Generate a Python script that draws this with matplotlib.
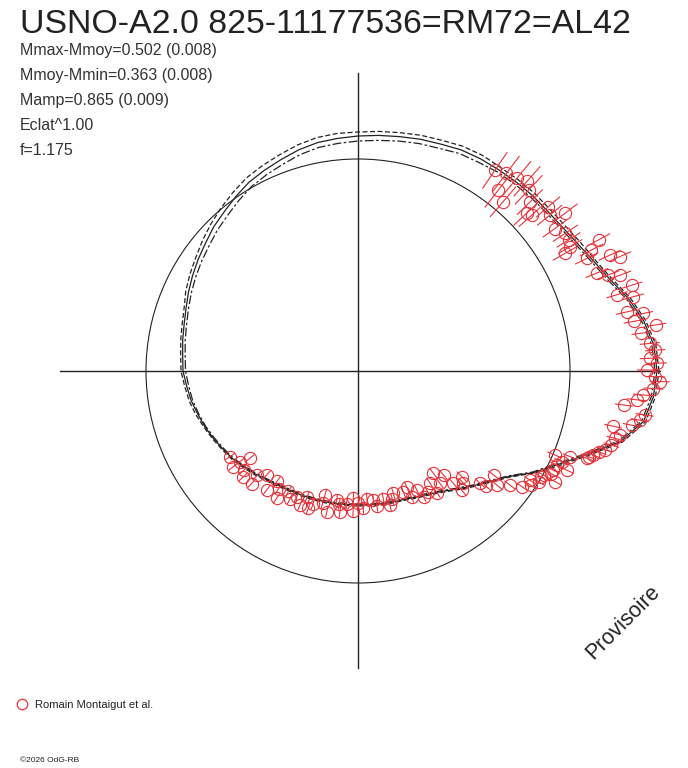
import numpy as np
import matplotlib
matplotlib.use('Agg')
import matplotlib.pyplot as plt
from matplotlib.patches import Circle
from matplotlib.collections import LineCollection

plt.rcParams['font.family'] = ['Liberation Sans', 'DejaVu Sans']

# ---- data ----
title = 'USNO-A2.0 825-11177536=RM72=AL42'
stats = ['Mmax-Mmoy=0.502 (0.008)', 'Mmoy-Mmin=0.363 (0.008)', 'Mamp=0.865 (0.009)',
         'Eclat^1.00', 'f=1.175']
observer = 'Romain Montaigut et al.'

ref_radius = 212

# model curves, radius every 5 degrees (0..355)
curve_angle = np.arange(0, 360, 5)
curve_main = [299, 297, 290, 280, 268, 260, 254, 250, 248, 247.5, 246.5, 245.5, 245, 244, 241.5, 240, 238, 236.5,
              235, 233.5, 232, 229, 225, 221.5, 218, 213, 208, 204, 199, 195, 191, 187, 183, 180, 178, 176,
              175, 172, 169.5, 166, 163, 159.5, 156, 153, 149, 145.5, 142, 139.5, 137.5, 136.5, 135.5, 135, 134.5, 134,
              134, 134.3, 134.8, 135.5, 136.5, 139, 142, 147, 154, 162.5, 172, 184, 203, 221, 244, 272, 290, 296.5]
curve_outer = [301, 299, 292, 282, 270, 262, 257, 253, 251, 250.5, 249.5, 248.5, 249, 248, 245.5, 244, 242, 240.5,
               239, 238.5, 237, 234, 230, 226.5, 223, 218, 213, 208, 203, 198, 194, 190, 185, 182, 180, 178,
               177, 174, 171.5, 168, 164, 160.5, 157, 154, 150, 146.5, 143, 140.5, 138.5, 137.5, 136.5, 136, 135.5, 135,
               135, 135.3, 135.8, 136.5, 137.5, 140, 143, 148, 155, 163.5, 173, 185, 204, 223, 246, 274, 292, 298.5]
curve_inner = [297, 295, 288, 278, 266, 258, 252, 248, 246, 245, 244, 243, 241, 240, 237, 235.5, 233.5, 231.5,
               230, 228.5, 227, 224, 220, 216.5, 213, 208, 203, 199, 194.5, 191, 187.5, 184, 180.5, 177.5, 175.5, 173.5,
               172.5, 170, 168, 165, 162, 158.5, 155, 152, 148, 144.5, 141, 138.5, 136.5, 135.5, 134.5, 134, 133.5, 133,
               133, 133.3, 133.8, 134.5, 135.5, 138, 141, 146, 153, 161.5, 171, 183, 202, 219, 242, 270, 288, 294.5]

# observations: angle (deg), radius, radial error
obs_angle = [55.7, 53.1, 50.5, 52.2, 49.4, 48.3, 46.7, 44.5, 43.1, 41.9, 40.8, 39.1, 37.3, 35.9, 33.6, 31.9,
             30.4, 29.6, 28.6, 27.4, 26.2, 24.7, 23.6, 22.3, 21.0, 20.1, 17.4, 16.4, 15.1, 12.4, 11.4, 10.2,
             8.8, 7.6, 5.4, 4.0, 2.5, 1.5, 0.2, 358.9, 358.0, 356.6, 355.2, 354.1, 352.7, 351.3, 350.1, 348.8,
             347.8, 346.3, 345.3, 343.7, 342.3, 341.4, 340.3, 339.1, 338.0, 336.9, 336.0, 333.1, 330.7, 330.7,
             334.7, 334.6, 339.6, 329.9, 327.6, 324.8, 323.1, 320.6, 322.5, 317.4, 313.2, 314.5, 310.3, 309.4,
             306.1, 306.4, 302.7, 297.5, 296.3, 292.8, 290.6, 286.1, 283.4, 281.2, 276.8, 272.2, 267.9, 265.1,
             262.7, 260.6, 257.5, 255.1, 251.3, 250.1, 246.6, 244.0, 240.0, 237.4, 232.5, 233.7, 228.7, 226.6,
             222.7, 217.5, 217.5, 218.9, 213.8, 300, 285, 278, 270, 262, 255, 248, 242, 236, 226, 221, 311, 318,
             303, 293, 268, 274, 326.5, 328.5, 332.0]
obs_radius = [243, 247, 250, 229, 223, 254, 249, 241, 231, 234, 251, 247, 260, 243, 249, 248,
              246, 238, 274, 263, 255, 277, 286, 258, 268, 279, 287, 270, 285, 275, 291, 280,
              302, 286, 293, 298, 292, 299, 289, 297, 302, 296, 286, 280, 268, 290, 286, 279,
              261, 270, 266, 264, 259, 254, 250, 245, 229, 214, 223, 219, 213, 226,
              220, 231, 246, 211, 204, 201, 190, 180, 171, 166, 154, 148, 147, 135,
              139, 127, 133, 142, 133, 126, 129, 127, 138, 130, 130, 137, 127, 133,
              142, 131, 144, 128, 140, 146, 146, 140, 139, 151, 150, 137, 138, 155,
              156, 157, 149, 139, 154, 140, 133, 136, 132, 134, 137, 136, 145, 142, 145, 151, 158, 172,
              145, 137, 140, 128, 207, 212, 219]
obs_error = [22, 22, 22, 22, 20, 20, 20, 18, 18, 18, 16, 16, 16, 15, 15, 14,
             14, 14, 13, 13, 13, 12, 12, 12, 12, 12, 11, 11, 11, 11, 10, 10,
             10, 10, 10, 10, 10, 10, 10, 10, 10, 10, 10, 10, 9, 9, 9, 9,
             9, 9, 9, 8, 8, 8, 8, 8, 8, 8, 8, 8, 7, 7,
             8, 8, 8, 7, 7, 7, 7, 7, 7, 7, 7, 7, 7, 7,
             6, 6, 6, 6, 6, 6, 6, 6, 6, 6, 6, 6, 6, 6,
             6, 6, 6, 6, 6, 6, 6, 6, 6, 6, 6, 6, 6, 6,
             6, 6, 6, 6, 6, 6, 6, 6, 6, 6, 6, 6, 6, 6, 6, 6, 7, 7,
             6, 6, 6, 6, 7, 7, 7]

ink = '#222222'
red = '#e8323a'

W, H = 688, 768
cx, cy = 358, 371

fig = plt.figure(figsize=(W / 100, H / 100), dpi=100)
ax = fig.add_axes([0, 0, 1, 1])
ax.set_xlim(-cx, W - cx)
ax.set_ylim(cy - H, cy)
ax.axis('off')


def to_xy(ang, rad):
    t = np.radians(np.asarray(ang, float))
    r = np.asarray(rad, float)
    return r * np.cos(t), r * np.sin(t)


# axes cross and reference circle
ax.plot([-298, 302], [0, 0], color=ink, lw=1.0)
ax.plot([0, 0], [-297, 298], color=ink, lw=1.0)
ax.add_patch(Circle((0, 0), ref_radius, fill=False, ec=ink, lw=0.8))

# model curves
for rad, ls in [(curve_outer, (0, (4, 2))), (curve_inner, (0, (7, 2, 2, 2))), (curve_main, '-')]:
    x, y = to_xy(np.append(curve_angle, 360), np.append(rad, rad[0]))
    ax.plot(x, y, color=ink, lw=0.9, ls=ls)

# observations with radial error bars
oa = np.asarray(obs_angle)
orad = np.asarray(obs_radius, float)
oe = np.asarray(obs_error, float)
x0, y0 = to_xy(oa, orad - oe)
x1, y1 = to_xy(oa, orad + oe)
segs = np.stack([np.column_stack([x0, y0]), np.column_stack([x1, y1])], axis=1)
ax.add_collection(LineCollection(segs, colors=red, linewidths=0.8))
xo, yo = to_xy(oa, orad)
ax.plot(xo, yo, 'o', ls='none', mfc='none', mec=red, mew=0.8, ms=8.8)

# texts
fig.text(20 / W, 1 - 33 / H, title, fontsize=24.4, color=ink, va='baseline')
for i, s in enumerate(stats):
    fig.text(20 / W, 1 - (55 + 25 * i) / H, s, fontsize=11.5, color='#333333', va='baseline')

fig.text(623 / W, 1 - 622 / H, 'Provisoire', fontsize=15.5, color=ink, rotation=45,
         ha='center', va='center', rotation_mode='anchor')

ax.plot([22 - cx], [cy - 704], 'o', mfc='none', mec=red, mew=0.9, ms=7.5)
fig.text(35 / W, 1 - 705 / H, observer, fontsize=8, color=ink, va='center')
fig.text(20 / W, 1 - 761 / H, '\u00a92026 OdG-RB', fontsize=6, color=ink, va='center')

fig.savefig('out.png', dpi=100)
